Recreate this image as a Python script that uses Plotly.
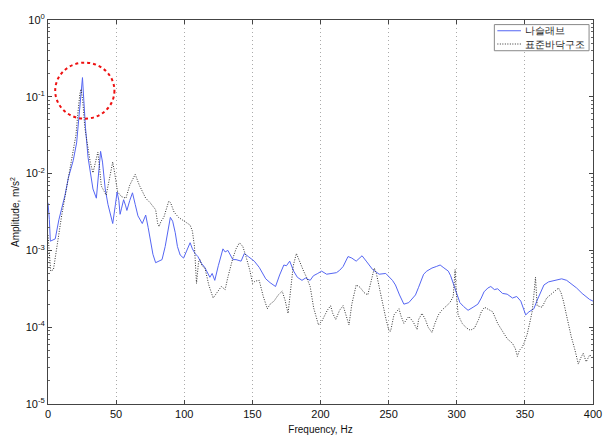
import numpy as np
import plotly.graph_objects as go

# ---- data (frequency in Hz, log10 of amplitude in m/s^2) ----
blue_name = "나슬래브"
blue_freq = [0, 1, 1.7, 3, 5.3, 8, 10, 12.5, 15, 18.5, 21, 23, 24.2, 25.3, 26.3, 27.5, 29.4, 31, 33, 35.5,
             37, 38.6, 40, 42, 44, 47.5, 49.5, 50.7, 52, 52.9, 54, 55.5, 57, 57.9, 60, 62, 64, 66, 69.2, 71.7,
             73.5, 75.3, 77, 79, 81, 83.7, 86, 88, 89.8, 91.5, 93.4, 95, 97, 99.5, 102, 104.3, 106, 107.9, 110,
             112.7, 115, 118.8, 120.5, 122.4, 125, 128.4, 130, 132, 135.7, 138, 141.7, 144.1, 147, 151.4, 155,
             159.8, 163, 167, 170, 173.1, 175, 177.4, 180.3, 183, 186.4, 189, 192.4, 194.8, 198, 200.8, 204.5,
             208, 211.7, 214, 216.6, 220.2, 223, 226.2, 228, 230.5, 234, 238.3, 243.1, 247.9, 252.8, 255, 258,
             261.2, 264.8, 267, 269.7, 272, 275.7, 278, 281.8, 285, 287.8, 290, 293.8, 295.5, 297.4, 300, 302.3,
             305, 308.3, 312, 315.5, 318, 320, 322.8, 325, 327.6, 330, 333.6, 337, 340.9, 344, 347, 349, 350.6,
             353, 356.6, 359, 361.4, 364, 367.4, 370, 373.4, 377, 380.7, 384, 388, 392, 395, 397.6, 400]
blue_log_amp = [-2.38, -2.6, -2.88, -2.87, -2.85, -2.6, -2.45, -2.28, -2.05, -1.83, -1.6, -1.2, -0.95, -0.75,
                -1.05, -1.4, -1.79, -2.0, -2.2, -2.32, -2.0, -1.71, -1.85, -2.2, -2.4, -2.65, -2.4, -2.24, -2.35,
                -2.53, -2.45, -2.34, -2.42, -2.48, -2.35, -2.25, -2.4, -2.55, -2.65, -2.54, -2.7, -2.9, -3.05,
                -3.16, -3.14, -3.12, -2.95, -2.75, -2.57, -2.62, -2.77, -2.95, -3.06, -3.1, -3.0, -2.9, -2.98,
                -3.04, -3.08, -3.17, -3.22, -3.35, -3.3, -3.39, -3.2, -2.98, -3.02, -3.0, -3.12, -3.12, -3.14,
                -3.04, -3.08, -3.14, -3.22, -3.37, -3.42, -3.47, -3.32, -3.19, -3.2, -3.14, -3.27, -3.35, -3.39,
                -3.36, -3.39, -3.33, -3.3, -3.27, -3.31, -3.3, -3.29, -3.26, -3.21, -3.08, -3.1, -3.14, -3.11,
                -3.07, -3.15, -3.25, -3.31, -3.3, -3.39, -3.45, -3.58, -3.7, -3.68, -3.64, -3.58, -3.48, -3.31,
                -3.27, -3.23, -3.21, -3.19, -3.22, -3.27, -3.33, -3.43, -3.55, -3.68, -3.73, -3.78, -3.74, -3.7,
                -3.62, -3.54, -3.49, -3.47, -3.51, -3.5, -3.56, -3.57, -3.62, -3.6, -3.66, -3.75, -3.84, -3.8,
                -3.76, -3.65, -3.56, -3.45, -3.41, -3.4, -3.39, -3.37, -3.39, -3.43, -3.49, -3.56, -3.61, -3.64,
                -3.66]

black_name = "표준바닥구조"
black_freq = [0, 1, 2, 4, 6, 7.7, 10, 12.5, 15, 18, 20.5, 22, 23.4, 24.3, 25.5, 27, 29.4, 31, 33, 35, 36.6, 38,
              39.1, 42.7, 45, 47.5, 49, 51.1, 54, 57.2, 60, 64, 67, 71.7, 75, 79, 80.5, 81.5, 83, 85, 88.6, 90,
              92.5, 95.8, 100, 104.3, 106, 107.5, 109, 110.5, 111.5, 113, 115.2, 118, 121.2, 124, 127.2, 130,
              132, 135.7, 138, 140.5, 143, 145.3, 148, 150.2, 152, 155, 158, 161, 163, 165.9, 169, 171.9, 174,
              176.2, 178, 180, 182.3, 184, 187.6, 190, 192.4, 195, 198.5, 201, 203.3, 205, 207.4, 209, 211.2,
              214, 216.6, 219, 220.9, 223, 226.2, 229, 232, 234.7, 237, 239.5, 241, 243.1, 246, 248, 250.3,
              251.5, 253.9, 257.6, 259, 261.2, 264.8, 268, 270.9, 272, 274.5, 277, 279, 281.8, 284, 286.5, 289,
              292.6, 295, 297.4, 298.3, 298.8, 299.5, 301, 304, 307.1, 310, 313.1, 316, 318, 320.4, 323, 326.4,
              330, 332.5, 334.9, 337, 340.9, 343, 344.5, 346, 348.1, 350, 351.7, 353.5, 355.3, 356.5, 357.8,
              359, 362.6, 366, 369.8, 372, 374.7, 376.5, 378.3, 380, 381.9, 384, 386.8, 389.2, 391, 392.8, 395,
              397.6, 400]
black_log_amp = [-2.8, -3.1, -3.27, -3.25, -3.0, -2.85, -2.55, -2.3, -2.05, -1.8, -1.5, -1.2, -0.96, -0.9,
                 -1.05, -1.4, -1.7, -1.85, -1.99, -1.85, -1.72, -1.95, -2.16, -2.28, -2.05, -1.85, -2.0, -2.24,
                 -2.3, -2.32, -2.15, -2.01, -2.15, -2.32, -2.38, -2.47, -2.65, -2.69, -2.62, -2.57, -2.36, -2.38,
                 -2.5, -2.57, -2.62, -2.67, -2.75, -2.95, -3.43, -3.15, -3.12, -3.2, -3.23, -3.45, -3.62, -3.55,
                 -3.47, -3.51, -3.35, -3.1, -2.98, -2.9, -2.95, -3.08, -3.25, -3.43, -3.4, -3.39, -3.6, -3.76,
                 -3.7, -3.66, -3.58, -3.53, -3.65, -3.82, -3.5, -3.2, -3.04, -3.12, -3.27, -3.36, -3.47, -3.75,
                 -3.97, -3.92, -3.84, -3.78, -3.72, -3.82, -3.9, -3.78, -3.72, -3.85, -3.97, -3.7, -3.45, -3.48,
                 -3.55, -3.58, -3.4, -3.23, -3.3, -3.47, -3.75, -3.89, -4.05, -4.05, -3.84, -3.76, -3.85, -3.95,
                 -3.86, -3.93, -4.03, -3.9, -3.82, -3.9, -4.0, -4.07, -3.95, -3.84, -3.78, -3.72, -3.68, -3.6,
                 -3.35, -3.25, -3.5, -3.84, -3.95, -4.01, -4.04, -4.01, -3.9, -3.8, -3.74, -3.77, -3.8, -3.95,
                 -4.03, -4.09, -4.15, -4.21, -4.28, -4.38, -4.3, -4.26, -4.18, -4.09, -3.95, -3.8, -3.6, -3.35,
                 -3.72, -3.74, -3.62, -3.56, -3.52, -3.49, -3.55, -3.66, -3.8, -3.97, -4.12, -4.3, -4.48, -4.4,
                 -4.34, -4.45, -4.36, -4.4]

x_ticks = [0, 50, 100, 150, 200, 250, 300, 350, 400]
y_ticks = [1e-5, 1e-4, 1e-3, 1e-2, 1e-1, 1]
y_tick_text = ["10<sup>-5</sup>", "10<sup>-4</sup>", "10<sup>-3</sup>", "10<sup>-2</sup>",
               "10<sup>-1</sup>", "10<sup>0</sup>"]
x_title = "Frequency, Hz"
y_title = "Amplitude, m/s<sup>2</sup>"

FONT = "Liberation Sans, Arial, sans-serif"
BLUE = "#5566f3"
BLACK = "#333333"
BLACK_DASH = "1px,1.5px"

fig = go.Figure()
fig.add_trace(go.Scatter(x=blue_freq, y=np.power(10.0, blue_log_amp), mode="lines", name=blue_name,
                         line=dict(color=BLUE, width=1)))
fig.add_trace(go.Scatter(x=black_freq, y=np.power(10.0, black_log_amp), mode="lines", name=black_name,
                         line=dict(color=BLACK, width=1, dash=BLACK_DASH)))

minor_vals = [m * 10.0 ** e for e in range(-5, 0) for m in range(2, 10)]

# compact MATLAB-style legend box (drawn in paper coordinates)
legend_entries = [(blue_name, BLUE, "solid"), (black_name, BLACK, BLACK_DASH)]
lg_x0, lg_x1, lg_y0, lg_y1 = 0.819, 0.9928, 0.920, 0.988
lg_line_x0, lg_line_x1, lg_text_x = 0.8245, 0.8678, 0.8715
lg_rows = [0.972, 0.9375]

shapes = [dict(type="circle", xref="paper", yref="paper",
               x0=0.0132, x1=0.1219, y0=0.743, y1=0.889,
               line=dict(color="#ee1111", width=2, dash="dot")),
          dict(type="rect", xref="paper", yref="paper", x0=lg_x0, x1=lg_x1, y0=lg_y0, y1=lg_y1,
               fillcolor="white", line=dict(color="#888888", width=1), layer="above")]
annotations = []
for (name, color, dash), ry in zip(legend_entries, lg_rows):
    shapes.append(dict(type="line", xref="paper", yref="paper", x0=lg_line_x0, x1=lg_line_x1, y0=ry, y1=ry,
                       line=dict(color=color, width=1, dash=dash), layer="above"))
    annotations.append(dict(xref="paper", yref="paper", x=lg_text_x, y=ry, xanchor="left", yanchor="middle",
                            text=name, showarrow=False, font=dict(size=10, family=FONT, color="#222")))

fig.update_layout(
    width=614, height=445,
    margin=dict(l=48, r=14, t=12, b=28),
    paper_bgcolor="white", plot_bgcolor="white",
    font=dict(family=FONT, size=10, color="#111"),
    showlegend=False,
    shapes=shapes,
    annotations=annotations,
)
fig.update_xaxes(range=[0, 400], tickvals=x_ticks, ticks="inside", ticklen=4, tickcolor="#444",
                 showline=True, linecolor="#444", linewidth=1, mirror="ticks",
                 showgrid=True, gridcolor="#aaaaaa", griddash="1px,3px", gridwidth=1,
                 zeroline=False, tickfont=dict(size=11, family=FONT),
                 title=dict(text=x_title, font=dict(size=10, family=FONT), standoff=6))
fig.update_yaxes(type="log", range=[-5, 0], tickvals=y_ticks, ticktext=y_tick_text,
                 ticks="inside", ticklen=4, tickcolor="#444",
                 minor=dict(tickvals=minor_vals, ticks="inside", ticklen=2, tickcolor="#666", showgrid=False),
                 showline=True, linecolor="#444", linewidth=1, mirror="ticks",
                 showgrid=False, zeroline=False, tickfont=dict(size=11, family=FONT),
                 title=dict(text=y_title, font=dict(size=10, family=FONT), standoff=4))

fig.write_html("out.html")
